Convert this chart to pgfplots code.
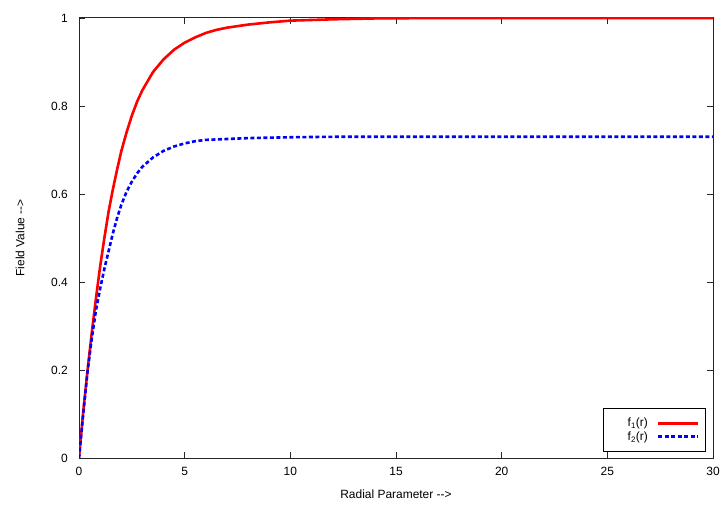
\documentclass[border=0pt]{standalone}
\usepackage{fontspec}
\setmainfont{Liberation Sans}
\usepackage{pgfplots}
\pgfplotsset{compat=1.18}
\newcommand\arr{\mbox{-}\mbox{-}>}
\begin{document}
\fontsize{12}{14}\selectfont
\begin{tikzpicture}
  \begin{axis}[
      scale only axis,
      width=634bp, height=440bp,
      xmin=0, xmax=30,
      ymin=0, ymax=1,
      xtick={0,5,10,15,20,25,30},
      ytick={0,0.2,0.4,0.6,0.8,1},
      /pgf/number format/assume math mode=true,
      tick align=inside,
      major tick length=6bp,
      axis line style={black!85, line width=1bp},
      every tick/.style={black!85, line width=0.8bp},
      yticklabel style={xshift=-7bp},
      xticklabel style={yshift=-5bp},
      xlabel={Radial Parameter \arr},
      ylabel={Field Value \arr},
      xlabel style={at={(axis description cs:0.5,-0.0818)}, anchor=center},
      ylabel style={at={(axis description cs:-0.0931,0.5)}, anchor=center},
      legend plot pos=right,
      legend cell align=right,
      legend image code/.code={\draw[#1] (0bp,0bp) -- (40bp,0bp);},
      legend style={at={(1,0)}, anchor=south east, xshift=-7bp, yshift=6bp,
                    draw=black, line width=1bp, fill=white,
                    inner xsep=6bp, inner ysep=7.5bp, row sep=-1bp,
                    /tikz/column sep=7bp,
                    font=\fontsize{12}{12}\selectfont},
    ]
    \addplot[color=red, line width=2.6bp] coordinates {
      (0,0) (0.2,0.105) (0.4,0.197) (0.6,0.283) (0.8,0.362) (1.0,0.435)
      (1.2,0.50) (1.4,0.56) (1.6,0.61) (1.8,0.655) (2.0,0.697)
      (2.25,0.74) (2.5,0.778) (2.75,0.81) (3.0,0.836) (3.5,0.877)
      (4.0,0.906) (4.5,0.928) (5.0,0.944) (5.5,0.956) (6.0,0.966)
      (6.5,0.973) (7.0,0.978) (8.0,0.985) (9.0,0.990) (10,0.994)
      (12,0.997) (14,0.999) (17,1.0) (20,1.0) (30,1.0)
    };
    \addlegendentry{\hspace*{16bp}f\textsubscript{1}(r)}
    \addplot[color=blue, line width=2.6bp, dash pattern=on 4bp off 2.5bp] coordinates {
      (0,0) (0.2,0.1) (0.4,0.195) (0.6,0.27) (0.8,0.335) (1.0,0.385)
      (1.2,0.43) (1.4,0.47) (1.6,0.51) (1.8,0.545) (2.0,0.575)
      (2.25,0.605) (2.5,0.628) (2.75,0.647) (3.0,0.662) (3.5,0.683)
      (4.0,0.698) (4.5,0.708) (5.0,0.715) (5.5,0.72) (6.0,0.723)
      (7.0,0.725) (8.0,0.727) (10,0.729) (12,0.73) (30,0.73)
    };
    \addlegendentry{\hspace*{16bp}f\textsubscript{2}(r)}
  \end{axis}
  \pgfresetboundingbox
  \path ([xshift=-79bp,yshift=-50bp]current axis.south west)
        rectangle ([xshift=11bp,yshift=18bp]current axis.north east);
\end{tikzpicture}
\end{document}
